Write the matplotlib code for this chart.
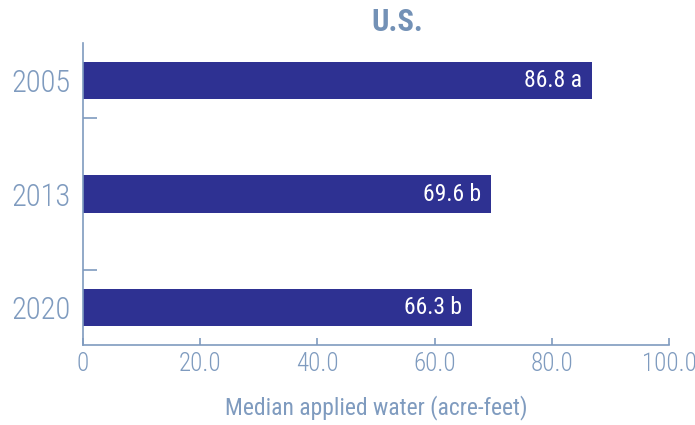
import matplotlib.pyplot as plt
import numpy as np

# data
years = ['2005', '2013', '2020']
water = [86.8, 69.6, 66.3]
letters = ['a', 'b', 'b']

bar_col = '#2E3192'
txt_col = '#7F9BBF'
plt.rcParams['font.family'] = ['Roboto Condensed', 'DejaVu Sans']
plt.rcParams['font.weight'] = 'light'

fig = plt.figure(figsize=(6.95, 4.25), dpi=100)
ax = fig.add_axes([0.1194, 0.188, 0.8432, 0.7106])

y = np.arange(len(years))
ax.barh(y, water, height=0.33, color=bar_col, zorder=2)
for yi, v, l in zip(y, water, letters):
    ax.text(v - 1.6, yi, '%.1f %s' % (v, l), color='white', fontsize=17,
            fontweight='normal', ha='right', va='center', zorder=3)

ax.set_xlim(0, 100)
ax.set_ylim(2.33, -0.33)
ax.set_yticks(y)
ax.set_yticklabels(years, fontsize=22, color=txt_col)
ax.set_yticks([0.33, 1.67], minor=True)
ax.tick_params(axis='y', which='major', length=0, pad=9)
ax.tick_params(axis='y', which='minor', length=10, direction='in', color=txt_col, width=1.2)
ax.set_xticks([0, 20, 40, 60, 80, 100])
ax.set_xticklabels(['0', '20.0', '40.0', '60.0', '80.0', '100.0'], fontsize=18, color=txt_col)
ax.tick_params(axis='x', length=5, direction='in', color=txt_col, width=1.2, pad=5)
for s in ['top', 'right']:
    ax.spines[s].set_visible(False)
for s in ['left', 'bottom']:
    ax.spines[s].set_color(txt_col)
    ax.spines[s].set_linewidth(1.2)

ax.set_xlabel('Median applied water (acre-feet)', fontsize=17, color=txt_col, labelpad=14)
fig.text(0.571, 0.948, 'U.S.', fontsize=22, fontweight='bold', color='#7391B6',
         ha='center', va='center')

plt.savefig('out.png', dpi=100)
